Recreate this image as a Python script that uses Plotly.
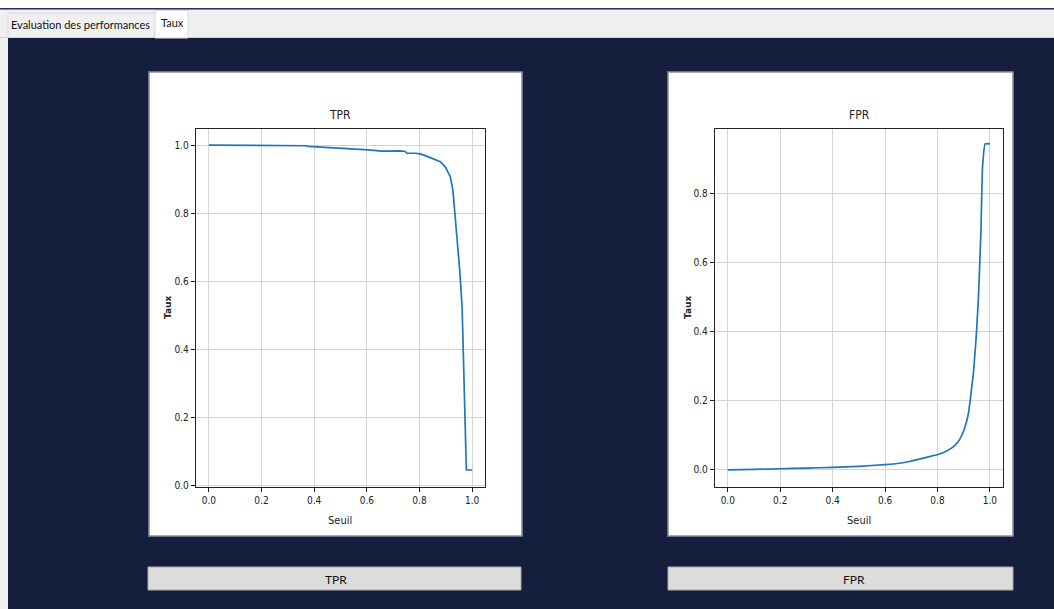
import plotly.graph_objects as go

W, H = 1054, 609

# ---- data ----
tpr_seuil = [0.0, 0.043, 0.049, 0.366, 0.378, 0.429, 0.48, 0.53, 0.556, 0.606, 0.657,
             0.726, 0.746, 0.752, 0.784, 0.803, 0.822, 0.847, 0.879, 0.898, 0.917, 0.927,
             0.934, 0.945, 0.953, 0.962, 0.966, 0.972, 0.978, 1.0]
tpr_taux = [1.0, 1.0, 0.998, 0.998, 0.996, 0.994, 0.992, 0.989, 0.987, 0.986, 0.982,
            0.983, 0.981, 0.976, 0.976, 0.974, 0.969, 0.961, 0.951, 0.936, 0.907, 0.867,
            0.803, 0.720, 0.631, 0.523, 0.395, 0.20, 0.046, 0.046]

fpr_seuil = [0.0, 0.1, 0.2, 0.3, 0.4, 0.5, 0.6, 0.655, 0.693, 0.731, 0.769, 0.805, 0.833,
             0.852, 0.868, 0.883, 0.896, 0.909, 0.918, 0.925, 0.931, 0.937, 0.944, 0.949,
             0.953, 0.956, 0.966, 0.972, 0.982, 1.0]
fpr_taux = [0.0, 0.001, 0.003, 0.005, 0.007, 0.010, 0.015, 0.019, 0.024, 0.031, 0.038,
            0.045, 0.054, 0.062, 0.072, 0.086, 0.105, 0.134, 0.163, 0.202, 0.241, 0.279,
            0.347, 0.400, 0.453, 0.492, 0.695, 0.878, 0.944, 0.944]

x_ticks = [0.0, 0.2, 0.4, 0.6, 0.8, 1.0]
tpr_yticks = [0.0, 0.2, 0.4, 0.6, 0.8, 1.0]
fpr_yticks = [0.0, 0.2, 0.4, 0.6, 0.8]

NAVY = "#161e3d"
LINE = "#1f77b4"
FONT = "DejaVu Sans Condensed, DejaVu Sans, sans-serif"
UI_FONT = "Lato, Liberation Sans, sans-serif"


def px(x):
    return x / W


def py(y):
    return 1 - y / H


fig = go.Figure()
fig.add_trace(go.Scatter(x=tpr_seuil, y=tpr_taux, mode="lines",
                         line=dict(color=LINE, width=1.7), xaxis="x", yaxis="y",
                         hoverinfo="skip", showlegend=False))
fig.add_trace(go.Scatter(x=fpr_seuil, y=fpr_taux, mode="lines",
                         line=dict(color=LINE, width=1.7, shape="spline", smoothing=0.4),
                         xaxis="x2", yaxis="y2", hoverinfo="skip", showlegend=False))

axis_common = dict(showline=True, linecolor="#222", linewidth=1, mirror=True,
                   ticks="outside", ticklen=4, tickcolor="#222", tickwidth=1,
                   showgrid=True, gridcolor="#d4d4d4", gridwidth=1, zeroline=False,
                   automargin=False,
                   tickfont=dict(family=FONT, size=10, color="#222"))

ydom = [py(486.7), py(128.7)]
fig.update_layout(
    width=W, height=H, autosize=False, showlegend=False,
    margin=dict(l=0, r=0, t=0, b=0, pad=0, autoexpand=False),
    paper_bgcolor=NAVY, plot_bgcolor="white",
    xaxis=dict(domain=[px(195.7), px(485.3)], range=[-0.05, 1.05], tickvals=x_ticks,
               ticktext=[f"{v:.1f}" for v in x_ticks], anchor="y", **axis_common),
    yaxis=dict(domain=ydom, range=[-0.003, 1.048], tickvals=tpr_yticks,
               ticktext=[f"{v:.1f}" for v in tpr_yticks], anchor="x", **axis_common),
    xaxis2=dict(domain=[px(714.7), px(1003)], range=[-0.05, 1.05], tickvals=x_ticks,
                ticktext=[f"{v:.1f}" for v in x_ticks], anchor="y2", **axis_common),
    yaxis2=dict(domain=ydom, range=[-0.049, 0.988], tickvals=fpr_yticks,
                ticktext=[f"{v:.1f}" for v in fpr_yticks], anchor="x2", **axis_common),
)

shapes = []
# top white strip + thin dark line
shapes.append(dict(type="rect", xref="paper", yref="paper", x0=0, x1=1, y0=py(8), y1=1,
                   fillcolor="white", line=dict(width=0), layer="below"))
shapes.append(dict(type="rect", xref="paper", yref="paper", x0=0, x1=1, y0=py(9.5), y1=py(8),
                   fillcolor="#2a3350", line=dict(width=0), layer="below"))
# tab bar
shapes.append(dict(type="rect", xref="paper", yref="paper", x0=0, x1=1, y0=py(38), y1=py(9.5),
                   fillcolor="#f0f0f0", line=dict(width=0), layer="below"))
shapes.append(dict(type="line", xref="paper", yref="paper", x0=0, x1=1, y0=py(37.5), y1=py(37.5),
                   line=dict(color="#d0d0d0", width=1), layer="below"))
# left light strip
shapes.append(dict(type="rect", xref="paper", yref="paper", x0=0, x1=px(8), y0=0, y1=py(38),
                   fillcolor="#f0f0f0", line=dict(width=0), layer="below"))
# tabs
shapes.append(dict(type="rect", xref="paper", yref="paper", x0=px(8), x1=px(155), y0=py(37.5),
                   y1=py(13), fillcolor="#f0f0f0", line=dict(color="#d9d9d9", width=1),
                   layer="below"))
shapes.append(dict(type="rect", xref="paper", yref="paper", x0=px(155), x1=px(188), y0=py(38),
                   y1=py(10.5), fillcolor="white", line=dict(color="#d9d9d9", width=1),
                   layer="below"))
# panels
for x0, x1 in [(149, 522), (668, 1013)]:
    shapes.append(dict(type="rect", xref="paper", yref="paper", x0=px(x0), x1=px(x1),
                       y0=py(536), y1=py(72), fillcolor="white",
                       line=dict(color="#8a8f9c", width=1.5), layer="below"))
# buttons
for x0, x1 in [(148, 521), (668, 1013)]:
    shapes.append(dict(type="rect", xref="paper", yref="paper", x0=px(x0), x1=px(x1),
                       y0=py(590), y1=py(567), fillcolor="#dcdcdc",
                       line=dict(color="#a8a8a8", width=1), layer="below"))
fig.update_layout(shapes=shapes)

ann = []


def text(x, y, s, size, family=FONT, color="#222", angle=0, xanchor="center"):
    ann.append(dict(xref="paper", yref="paper", x=px(x), y=py(y), text=s, showarrow=False,
                    font=dict(family=family, size=size, color=color), textangle=angle,
                    xanchor=xanchor, yanchor="middle"))


text(9, 25, "Evaluation des performances", 11, UI_FONT, "#111", xanchor="left")
text(159, 23, "Taux", 11, UI_FONT, "#111", xanchor="left")
text(340, 115, "TPR", 12)
text(859, 115, "FPR", 12)
text(340, 520, "Seuil", 11)
text(859, 520, "Seuil", 11)
text(168, 308, "<b>Taux</b>", 9, "DejaVu Sans", angle=-90)
text(688, 308, "<b>Taux</b>", 9, "DejaVu Sans", angle=-90)
text(336, 579, "TPR", 12, UI_FONT, "#111")
text(854, 579, "FPR", 12, UI_FONT, "#111")
fig.update_layout(annotations=ann)

fig.write_html("out.html")
